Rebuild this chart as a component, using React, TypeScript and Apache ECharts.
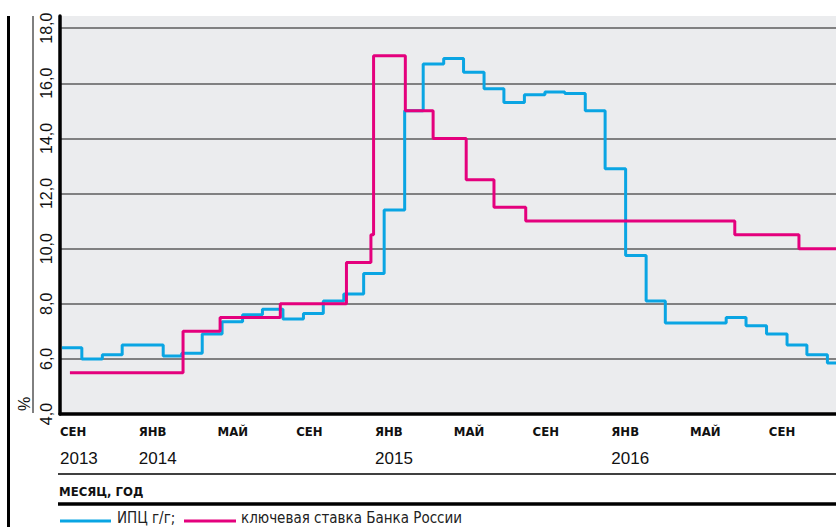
import React, { useEffect, useRef } from "react";
import * as echarts from "echarts";

// Monthly CPI, year over year, %, plotted from the first day of each month
const cpiMonths = [
  "2013-09", "2013-10", "2013-11", "2013-12",
  "2014-01", "2014-02", "2014-03", "2014-04", "2014-05", "2014-06",
  "2014-07", "2014-08", "2014-09", "2014-10", "2014-11", "2014-12",
  "2015-01", "2015-02", "2015-03", "2015-04", "2015-05", "2015-06",
  "2015-07", "2015-08", "2015-09", "2015-10", "2015-11", "2015-12",
  "2016-01", "2016-02", "2016-03", "2016-04", "2016-05", "2016-06",
  "2016-07", "2016-08", "2016-09", "2016-10", "2016-11",
];
const cpiValues = [
  6.4, 6.0, 6.15, 6.5,
  6.5, 6.1, 6.2, 6.9, 7.35, 7.6,
  7.8, 7.45, 7.65, 8.1, 8.35, 9.1,
  11.4, 15.0, 16.7, 16.9, 16.4, 15.8,
  15.3, 15.58, 15.68, 15.63, 15.0, 12.9,
  9.75, 8.1, 7.3, 7.3, 7.3, 7.5,
  7.2, 6.9, 6.5, 6.15, 5.85,
];

// Bank of Russia key rate, %, by decision date
const rateDates = [
  "2013-09-13", "2014-03-03", "2014-04-28", "2014-07-28", "2014-11-05",
  "2014-12-12", "2014-12-16", "2015-02-02", "2015-03-16", "2015-05-05",
  "2015-06-16", "2015-08-03", "2016-06-14", "2016-09-19",
];
const rateValues = [5.5, 7.0, 7.5, 8.0, 9.5, 10.5, 17.0, 15.0, 14.0, 12.5, 11.5, 11.0, 10.5, 10.0];

// Tick labels under the time line (one every four months)
const monthTickLabels = ["СЕН", "ЯНВ", "МАЙ", "СЕН", "ЯНВ", "МАЙ", "СЕН", "ЯНВ", "МАЙ", "СЕН"];
const yearTickLabels = ["2013", "2014", "", "", "2015", "", "", "2016", "", ""];

const legendCpi = "ИПЦ г/г;";
const legendRate = "ключевая ставка Банка России";
const xAxisTitle = "МЕСЯЦ, ГОД";
const yAxisUnit = "%";

const BLUE = "#0aa5e3";
const PINK = "#e4007d";
const NARROW = "'Liberation Sans Narrow', 'DejaVu Sans Condensed', 'Arial Narrow', sans-serif";
const SANS = "'Liberation Sans', Arial, sans-serif";

const utc = (s: string) => {
  const [y, m, d] = s.split("-").map(Number);
  return Date.UTC(y, m - 1, d || 1);
};

const X_MIN = utc("2013-08-29");
const X_MAX = utc("2016-11-14");

export default function App() {
  const ref = useRef<HTMLDivElement>(null);

  useEffect(() => {
    if (!ref.current) return;
    const chart = echarts.init(ref.current, null, { renderer: "svg" });

    const cpiData: [number, number][] = cpiMonths.map((m, i) => [utc(m), cpiValues[i]]);
    cpiData.push([X_MAX, cpiValues[cpiValues.length - 1]]);
    const rateData: [number, number][] = rateDates.map((d, i) => [utc(d), rateValues[i]]);
    rateData.push([X_MAX, rateValues[rateValues.length - 1]]);

    const tickAxis = (labels: string[], margin: number, fontSize: number, bold: boolean, font: string) => ({
      type: "value",
      gridIndex: 0,
      position: "bottom",
      min: 0,
      max: 39.41,
      interval: 4,
      axisLine: { show: false },
      axisTick: { show: false },
      splitLine: { show: false },
      axisLabel: {
        show: true,
        align: "left",
        margin,
        fontSize,
        fontWeight: bold ? "bold" : "normal",
        fontFamily: font,
        color: "#111",
        showMaxLabel: false,
        formatter: (v: number) => {
          const k = Math.round(v / 4);
          return Math.abs(v - k * 4) < 1e-6 ? labels[k] ?? "" : "";
        },
      },
    });

    chart.setOption({
      animation: false,
      grid: {
        left: 60,
        right: 0,
        top: 16,
        bottom: 113,
        show: true,
        backgroundColor: "#ebecee",
        borderWidth: 0,
      },
      xAxis: [
        {
          type: "time",
          min: X_MIN,
          max: X_MAX,
          axisLine: { show: true, lineStyle: { color: "#000", width: 3.5 } },
          axisTick: { show: false },
          axisLabel: { show: false },
          splitLine: { show: false },
        },
        tickAxis(monthTickLabels, 11, 13, true, NARROW),
        tickAxis(yearTickLabels, 36, 17, false, SANS),
      ],
      yAxis: {
        type: "value",
        min: 4,
        max: 18.44,
        interval: 2,
        axisLine: { show: true, lineStyle: { color: "#000", width: 3.5 } },
        axisTick: { show: false },
        splitLine: {
          show: true,
          showMinLine: false,
          showMaxLine: false,
          lineStyle: { color: "#5c5c5c", width: 1.6 },
        },
        axisLabel: {
          rotate: 90,
          margin: 6,
          fontSize: 16,
          fontFamily: SANS,
          color: "#111",
          showMaxLabel: false,
          formatter: (v: number) => {
            const r = Math.round(v);
            return Math.abs(v - r) < 1e-6 && r % 2 === 0 ? r.toFixed(1).replace(".", ",") : "";
          },
        },
      },
      series: [
        {
          name: legendCpi,
          type: "line",
          step: "end",
          xAxisIndex: 0,
          data: cpiData,
          showSymbol: false,
          lineStyle: { color: BLUE, width: 3 },
          itemStyle: { color: BLUE },
          z: 3,
        },
        {
          name: legendRate,
          type: "line",
          step: "end",
          xAxisIndex: 0,
          data: rateData,
          showSymbol: false,
          lineStyle: { color: PINK, width: 3 },
          itemStyle: { color: PINK },
          z: 4,
        },
      ],
      graphic: [
        // page frame rule on the left and the unit separator
        { type: "line", shape: { x1: 8.5, y1: 16, x2: 8.5, y2: 527 }, style: { stroke: "#000", lineWidth: 3 } },
        { type: "line", shape: { x1: 33, y1: 16, x2: 33, y2: 413 }, style: { stroke: "#000", lineWidth: 1 } },
        {
          type: "text",
          x: 24,
          y: 404,
          rotation: Math.PI / 2,
          style: { text: yAxisUnit, fontSize: 16, fontFamily: SANS, fill: "#111", textAlign: "center", textVerticalAlign: "middle" },
        },
        // rules framing the axis title
        { type: "line", shape: { x1: 58, y1: 474, x2: 836, y2: 474 }, style: { stroke: "#000", lineWidth: 1.5 } },
        {
          type: "text",
          x: 59,
          y: 491,
          style: { text: xAxisTitle, fontSize: 13, fontWeight: "bold", fontFamily: NARROW, fill: "#111", textVerticalAlign: "middle" },
        },
        { type: "line", shape: { x1: 58, y1: 504, x2: 836, y2: 504 }, style: { stroke: "#000", lineWidth: 3.5 } },
        // legend
        { type: "line", shape: { x1: 60, y1: 521, x2: 111, y2: 521 }, style: { stroke: BLUE, lineWidth: 3 } },
        {
          type: "text",
          x: 117,
          y: 518,
          style: { text: legendCpi, fontSize: 15, fontFamily: NARROW, fill: "#222", textVerticalAlign: "middle" },
        },
        { type: "line", shape: { x1: 184, y1: 521, x2: 236, y2: 521 }, style: { stroke: PINK, lineWidth: 3 } },
        {
          type: "text",
          x: 241,
          y: 518,
          style: { text: legendRate, fontSize: 15, fontFamily: NARROW, fill: "#222", textVerticalAlign: "middle" },
        },
      ],
    });

    return () => chart.dispose();
  }, []);

  return (
    <div
      ref={ref}
      style={{ position: "absolute", left: 0, top: 0, width: 836, height: 527, background: "#fff" }}
    />
  );
}
